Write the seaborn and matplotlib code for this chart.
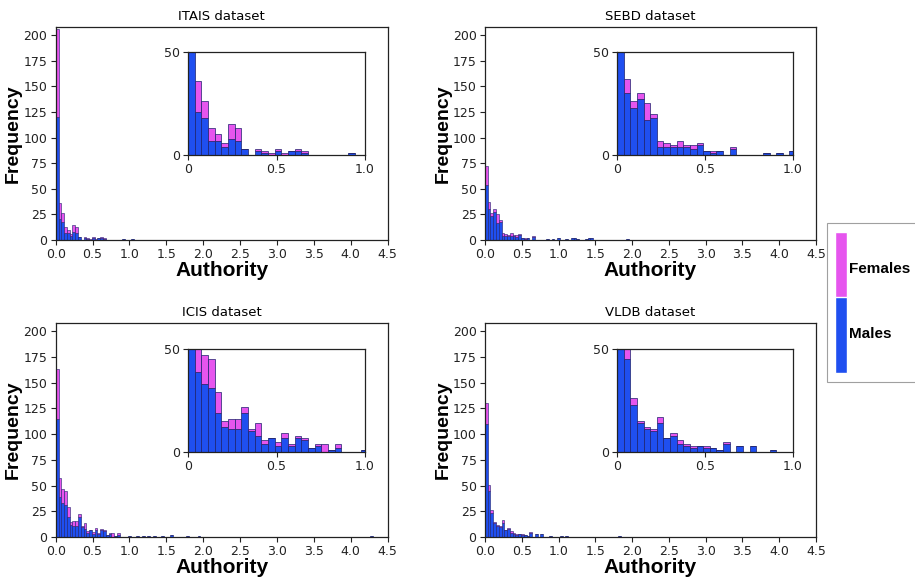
import numpy as np
import pandas as pd
import matplotlib
matplotlib.use('Agg')
import matplotlib.pyplot as plt
import seaborn as sns
from matplotlib.patches import Patch

sns.set_style('ticks')
plt.rcParams['font.family'] = ['DejaVu Sans']
plt.rcParams['text.color'] = 'black'

# bin width of the histograms (authority units)
binW = 0.0377

# counts per bin, starting at authority 0 (bin i covers [i*binW, (i+1)*binW))
itaisMales   = [120, 21, 18, 7, 7, 4, 8, 7, 3, 0, 2, 1, 0, 2, 0, 2, 2, 1, 0, 0, 0, 0, 0, 0, 1, 0, 0, 1]
itaisFemales = [86, 15, 8, 6, 3, 2, 7, 6, 0, 0, 1, 1, 1, 1, 1, 0, 1, 1]
sebdMales    = [54, 30, 23, 27, 17, 18, 4, 4, 4, 4, 4, 3, 5, 2, 1, 2, 0, 3, 0, 0, 0, 0, 1, 0, 1, 0, 2]
sebdFemales  = [18, 7, 3, 3, 8, 2, 3, 2, 1, 3, 1, 2, 1, 0, 1, 0, 0, 1]
icisMales    = [115, 39, 33, 31, 19, 12, 11, 11, 19, 10, 8, 4, 7, 3, 7, 3, 7, 6, 2, 3, 0, 1, 2, 0, 0, 0, 1]
icisFemales  = [48, 18, 14, 14, 10, 3, 5, 5, 3, 1, 6, 2, 0, 2, 2, 1, 1, 1, 0, 1, 4, 0, 2]
vldbMales    = [110, 45, 23, 14, 11, 10, 14, 7, 8, 4, 3, 2, 3, 2, 2, 1, 4, 0, 3, 0, 3, 0, 0, 1]
vldbFemales  = [20, 6, 3, 1, 1, 1, 3, 0, 1, 2, 1, 1, 0, 1, 0, 0, 1]

# sparse tail of male authors beyond 1.0 (authority value, count)
sebdTailX   = [1.10, 1.20, 1.24, 1.28, 1.36, 1.40, 1.46, 1.93]
sebdTailN   = [1, 2, 2, 1, 1, 2, 2, 1]
icisTailX   = [1.10, 1.18, 1.26, 1.35, 1.44, 1.58, 1.80, 1.95, 4.27]
icisTailN   = [1, 1, 1, 1, 1, 2, 1, 1, 1]
vldbTailX   = [1.05, 1.10, 1.83]
vldbTailN   = [1, 1, 1]
itaisTailX  = []
itaisTailN  = []

titles = ['ITAIS dataset', 'SEBD dataset', 'ICIS dataset', 'VLDB dataset']

maleColor = '#1f4ff0'
femColor = '#e655ee'
edgeColor = '#1b1f6b'

nBins = int(round(4.5 / binW)) + 1
centers = (np.arange(nBins) + 0.5) * binW


def makeFrame(males, females, tailX, tailN):
    rows = []
    for i, n in enumerate(males):
        if n > 0:
            rows.append((centers[i], n, 'Males'))
    for i, n in enumerate(females):
        if n > 0:
            rows.append((centers[i], n, 'Females'))
    for x, n in zip(tailX, tailN):
        rows.append((x, n, 'Males'))
    return pd.DataFrame(rows, columns=['authority', 'count', 'sex'])


frames = [makeFrame(itaisMales, itaisFemales, itaisTailX, itaisTailN),
          makeFrame(sebdMales, sebdFemales, sebdTailX, sebdTailN),
          makeFrame(icisMales, icisFemales, icisTailX, icisTailN),
          makeFrame(vldbMales, vldbFemales, vldbTailX, vldbTailN)]

fig = plt.figure(figsize=(9.15, 5.77), dpi=100)

# main axes positions (figure fractions)
mainPos = [[0.0609, 0.584, 0.3628, 0.369],
           [0.5300, 0.584, 0.3618, 0.369],
           [0.0609, 0.0693, 0.3628, 0.371],
           [0.5300, 0.0693, 0.3618, 0.371]]
insetPos = [[0.2055, 0.7314, 0.1934, 0.1785],
            [0.6743, 0.7314, 0.1923, 0.1785],
            [0.2055, 0.2166, 0.1934, 0.1785],
            [0.6743, 0.2166, 0.1923, 0.1785]]

palette = {'Males': maleColor, 'Females': femColor}
histKw = dict(x='authority', weights='count', hue='sex',
              hue_order=['Females', 'Males'], multiple='stack',
              binwidth=binW, binrange=(0, nBins * binW),
              palette=palette, alpha=1, edgecolor=edgeColor, legend=False)

for k in range(4):
    df = frames[k]
    ax = fig.add_axes(mainPos[k])
    sns.histplot(data=df, linewidth=0.4, ax=ax, **histKw)
    ax.set_xlim(0, 4.5)
    ax.set_ylim(0, 208)
    ax.set_xticks(np.arange(0, 4.51, 0.5))
    ax.set_yticks(np.arange(0, 201, 25))
    ax.tick_params(labelsize=9, colors='#222222', length=3.5, pad=2.5)
    ax.set_title(titles[k], fontsize=9.5, pad=5, color='black')
    ax.set_xlabel('Authority', fontsize=15, fontweight='bold', family='Liberation Sans',
                  labelpad=0, color='black')
    ax.set_ylabel('Frequency', fontsize=14, fontweight='bold', family='Liberation Sans',
                  labelpad=1, color='black')
    for s in ax.spines.values():
        s.set_color('#222222')
        s.set_linewidth(0.9)

    ins = fig.add_axes(insetPos[k])
    sns.histplot(data=df, linewidth=0.5, ax=ins, **histKw)
    ins.set_xlim(0, 1.0)
    ins.set_ylim(0, 50)
    ins.set_xticks([0, 0.5, 1.0])
    ins.set_xticklabels(['0', '0.5', '1.0'])
    ins.set_yticks([0, 50])
    ins.set_yticklabels(['0', '50'])
    ins.set_xlabel('')
    ins.set_ylabel('')
    ins.tick_params(labelsize=9, colors='#222222', length=3.5, pad=2.5)
    for s in ins.spines.values():
        s.set_color('#222222')
        s.set_linewidth(0.9)

handles = [Patch(facecolor=femColor, label='Females'),
           Patch(facecolor=maleColor, label='Males')]
leg = fig.legend(handles=handles, loc='center', bbox_to_anchor=(0.9535, 0.4757),
                 handlelength=0.8, handleheight=7.3, labelspacing=-0.7,
                 handletextpad=0.1, borderpad=0.55, borderaxespad=0,
                 fancybox=False, frameon=True, labelcolor='black',
                 prop={'family': 'Liberation Sans', 'weight': 'bold', 'size': 11})
leg.get_frame().set_edgecolor('#888888')
leg.get_frame().set_linewidth(0.8)

fig.savefig('out.png', dpi=100)
